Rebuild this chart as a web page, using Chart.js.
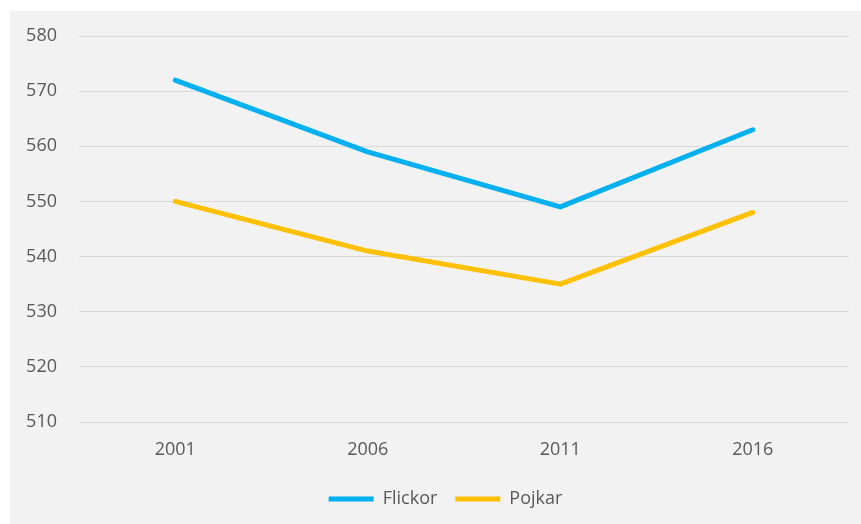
<!DOCTYPE html>
<html>
<head>
<meta charset="utf-8">
<script src="https://cdn.jsdelivr.net/npm/chart.js@4"></script>
<style>
  html, body { margin: 0; padding: 0; background: #ffffff; overflow: hidden; }
  .chart-box {
    position: absolute;
    left: 10px;
    top: 11px;
    width: 851px;
    height: 513px;
    background: #f2f2f2;
  }
</style>
</head>
<body>
<div class="chart-box"><canvas id="scoreChart"></canvas></div>
<script>
// Chart data
const years = ['2001', '2006', '2011', '2016'];
const flickor = [572, 559, 549, 563];
const pojkar = [550, 541, 535, 548];
const yTicks = [510, 520, 530, 540, 550, 560, 570, 580];

const textColor = '#595959';
const fontFamily = '"Open Sans", sans-serif';

// Nudge the legend a bit right, the original sits off-centre
const legendShift = {
  id: 'legendShift',
  afterLayout: function(chart) {
    if (chart.legend) {
      chart.legend.left += 16;
      chart.legend.right += 16;
    }
  }
};

document.addEventListener('DOMContentLoaded', function() {
  const ctx = document.getElementById('scoreChart').getContext('2d');

  function lineSet(label, data, color) {
    return {
      label: label,
      data: data,
      borderColor: color,
      backgroundColor: color,
      borderWidth: 5,
      borderCapStyle: 'round',
      borderJoinStyle: 'round',
      pointRadius: 0,
      pointHoverRadius: 0,
      pointStyle: 'line',
      tension: 0,
      fill: false
    };
  }

  new Chart(ctx, {
    type: 'line',
    data: {
      labels: years,
      datasets: [
        lineSet('Flickor', flickor, '#00b0f0'),
        lineSet('Pojkar', pojkar, '#ffc000')
      ]
    },
    options: {
      responsive: true,
      maintainAspectRatio: false,
      animation: false,
      layout: {
        padding: { left: 0, right: 12, top: 25, bottom: 6 }
      },
      plugins: {
        legend: {
          position: 'bottom',
          labels: {
            usePointStyle: true,
            pointStyleWidth: 45,
            padding: 18,
            color: textColor,
            font: { family: fontFamily, size: 18 }
          }
        },
        tooltip: { enabled: false }
      },
      scales: {
        x: {
          offset: true,
          grid: { display: false, drawTicks: false },
          border: { display: false },
          ticks: {
            padding: 17,
            color: textColor,
            font: { family: fontFamily, size: 18 }
          },
          afterFit: function(scale) {
            scale.height = 50;
          }
        },
        y: {
          min: yTicks[0],
          max: yTicks[yTicks.length - 1],
          afterBuildTicks: function(scale) {
            scale.ticks = yTicks.map(v => ({ value: v }));
          },
          grid: { color: '#d9d9d9', lineWidth: 1, drawTicks: false },
          border: { display: false },
          ticks: {
            padding: 22,
            color: textColor,
            font: { family: fontFamily, size: 18 }
          },
          afterFit: function(scale) {
            scale.width = 69;
            scale.paddingTop = 0;
            scale.paddingBottom = 0;
          }
        }
      }
    },
    plugins: [legendShift]
  });
});
</script>
</body>
</html>
